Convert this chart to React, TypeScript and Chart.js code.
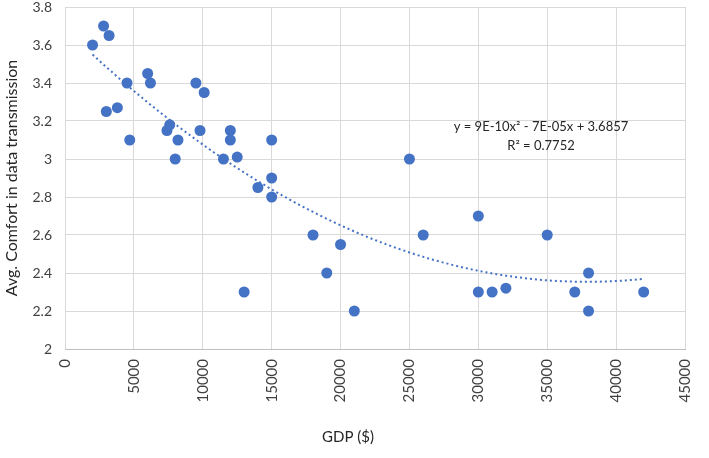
import React, { useEffect, useRef } from "react";
import { Chart, registerables } from "chart.js";

Chart.register(...registerables);

const gdp = [2000, 2800, 3200, 3000, 3800, 4500, 4700, 6000, 6200, 7400, 7600, 8000, 8200, 9500, 9800, 10100, 11500, 12000, 12000, 12500, 13000, 14000, 15000, 15000, 15000, 18000, 19000, 20000, 21000, 25000, 26000, 30000, 30000, 31000, 32000, 35000, 37000, 38000, 38000, 42000];
const comfort = [3.6, 3.7, 3.65, 3.25, 3.27, 3.4, 3.1, 3.45, 3.4, 3.15, 3.18, 3.0, 3.1, 3.4, 3.15, 3.35, 3.0, 3.15, 3.1, 3.01, 2.3, 2.85, 3.1, 2.9, 2.8, 2.6, 2.4, 2.55, 2.2, 3.0, 2.6, 2.7, 2.3, 2.3, 2.32, 2.6, 2.3, 2.4, 2.2, 2.3];
const equationLines = ["y = 9E-10x\u00B2 - 7E-05x + 3.6857", "R\u00B2 = 0.7752"];
const xTitle = "GDP ($)";
const yTitle = "Avg. Comfort in data transmission";

function quadFit(xs: number[], ys: number[]) {
  const s = 10000;
  const S = [0, 0, 0, 0, 0];
  const T = [0, 0, 0];
  for (let i = 0; i < xs.length; i++) {
    const x = xs[i] / s;
    for (let k = 0; k < 5; k++) S[k] += Math.pow(x, k);
    for (let k = 0; k < 3; k++) T[k] += ys[i] * Math.pow(x, k);
  }
  const M = [
    [S[0], S[1], S[2], T[0]],
    [S[1], S[2], S[3], T[1]],
    [S[2], S[3], S[4], T[2]],
  ];
  for (let i = 0; i < 3; i++) {
    let p = i;
    for (let r = i + 1; r < 3; r++) if (Math.abs(M[r][i]) > Math.abs(M[p][i])) p = r;
    [M[i], M[p]] = [M[p], M[i]];
    for (let r = 0; r < 3; r++) {
      if (r === i) continue;
      const f = M[r][i] / M[i][i];
      for (let c = i; c < 4; c++) M[r][c] -= f * M[i][c];
    }
  }
  const a = M[0][3] / M[0][0];
  const b = M[1][3] / M[1][1];
  const c = M[2][3] / M[2][2];
  return (x: number) => a + b * (x / s) + c * (x / s) * (x / s);
}

export default function App() {
  const ref = useRef<HTMLCanvasElement>(null);
  useEffect(() => {
    if (!ref.current) return;
    const f = quadFit(gdp, comfort);
    const xmin = Math.min(...gdp);
    const xmax = Math.max(...gdp);
    const trend: { x: number; y: number }[] = [];
    const n = 120;
    for (let i = 0; i <= n; i++) {
      const x = xmin + ((xmax - xmin) * i) / n;
      trend.push({ x, y: f(x) });
    }
    const font = "Lato, 'Open Sans', sans-serif";
    const textPlugin = {
      id: "texts",
      afterDraw(chart: any) {
        const ctx = chart.ctx;
        const ca = chart.chartArea;
        ctx.save();
        ctx.fillStyle = "#262626";
        ctx.font = `13px ${font}`;
        ctx.textAlign = "center";
        ctx.textBaseline = "middle";
        ctx.fillText(equationLines[0], 541, 127);
        ctx.fillText(equationLines[1], 541, 146);
        ctx.font = `15px ${font}`;
        ctx.fillText(xTitle, 348, 437);
        ctx.font = `16px ${font}`;
        ctx.translate(12, (ca.top + ca.bottom) / 2);
        ctx.rotate(-Math.PI / 2);
        ctx.fillText(yTitle, 0, 0);
        ctx.restore();
      },
    };
    const chart = new Chart(ref.current, {
      type: "scatter",
      data: {
        datasets: [
          {
            label: "trend",
            data: trend,
            showLine: true,
            borderColor: "#4472C4",
            borderWidth: 2,
            borderDash: [2, 3],
            pointRadius: 0,
            fill: false,
            order: 2,
          } as any,
          {
            label: "data",
            data: gdp.map((x, i) => ({ x, y: comfort[i] })),
            backgroundColor: "#4472C4",
            borderColor: "#4472C4",
            pointRadius: 5.5,
            pointBorderWidth: 0,
            order: 1,
          },
        ],
      },
      plugins: [textPlugin],
      options: {
        animation: false,
        responsive: false,
        maintainAspectRatio: false,
        layout: { padding: { top: 7, right: 24, left: 0, bottom: 0 } },
        plugins: { legend: { display: false }, tooltip: { enabled: false } },
        scales: {
          x: {
            type: "linear",
            min: 0,
            max: 45000,
            afterFit(scale: any) {
              scale.height = 109;
              scale.paddingLeft = 0;
              scale.paddingRight = 0;
            },
            ticks: {
              stepSize: 5000,
              minRotation: 90,
              maxRotation: 90,
              color: "#404040",
              font: { family: font, size: 15 },
              padding: 10,
              callback: (v: any) => String(v),
            },
            grid: { color: "#d9d9d9", lineWidth: 1, drawTicks: false },
            border: { color: "#bfbfbf" },
          },
          y: {
            min: 2,
            max: 3.8,
            afterFit(scale: any) {
              scale.width = 65;
              scale.paddingTop = 0;
              scale.paddingBottom = 0;
            },
            ticks: {
              stepSize: 0.2,
              color: "#404040",
              font: { family: font, size: 14 },
              padding: 13,
              callback: (v: any) => String(Math.round(Number(v) * 10) / 10),
            },
            grid: { color: "#d9d9d9", lineWidth: 1, drawTicks: false },
            border: { display: false },
          },
        },
      },
    } as any);
    return () => chart.destroy();
  }, []);
  return (
    <div style={{ position: "fixed", left: 0, top: 0, width: 709, height: 458, background: "#fff" }}>
      <canvas ref={ref} width={709} height={458} style={{ width: 709, height: 458 }} />
    </div>
  );
}
